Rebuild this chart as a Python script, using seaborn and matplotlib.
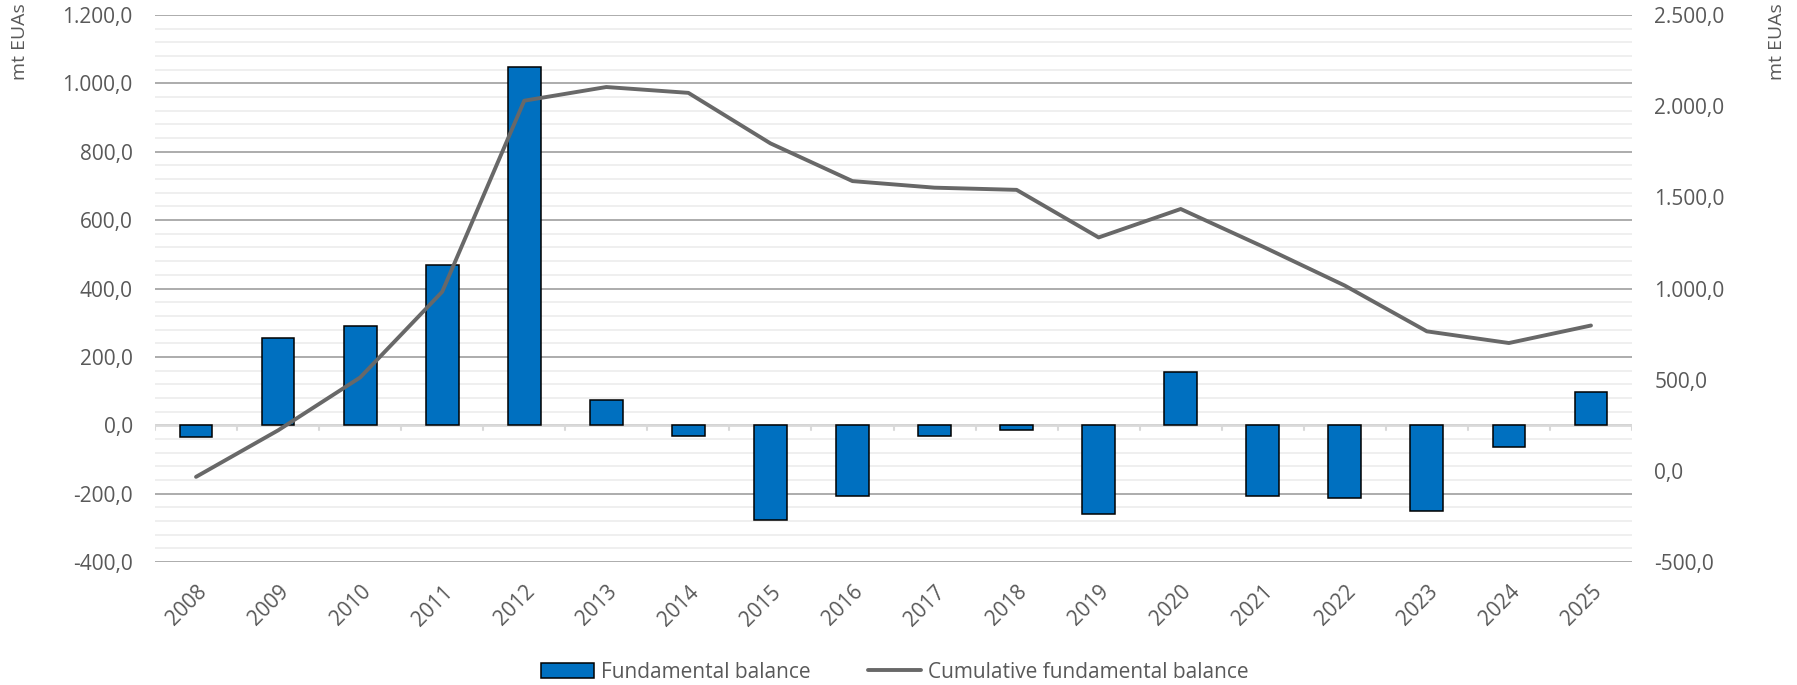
import numpy as np
import pandas as pd
import matplotlib
matplotlib.use("Agg")
import matplotlib.pyplot as plt
from matplotlib.patches import Patch
from matplotlib.lines import Line2D
from matplotlib.ticker import FuncFormatter, MultipleLocator
import seaborn as sns

years = [str(y) for y in range(2008, 2026)]
fundamental_balance = [-33, 255, 290, 470, 1048, 75, -32, -277, -207, -31,
                       -13, -261, 156, -206, -214, -251, -64, 96]
cumulative_balance = [-33, 222, 512, 982, 2030, 2105, 2073, 1796, 1589, 1553,
                      1541, 1280, 1436, 1230, 1016, 765, 701, 797]

right_ticks = [-500, 0, 500, 1000, 1500, 2000, 2500]

df = pd.DataFrame({"year": years,
                   "balance": fundamental_balance,
                   "cumulative": cumulative_balance})

sns.set_theme(style="white")
plt.rcParams["font.family"] = ["Open Sans", "DejaVu Sans"]

FS = 15
TXT = "#595959"
BAR = "#0070C0"
LINE = "#686868"
MAJOR = "#a6a6a6"
MINOR = "#eeeeee"
AXIS = "#d9d9d9"

fig = plt.figure(figsize=(17.97, 6.85), dpi=100)
ax = fig.add_axes([155 / 1797, 1 - 562 / 685, (1632 - 155) / 1797, (562 - 15) / 685])

sns.barplot(data=df, x="year", y="balance", ax=ax, color=BAR, width=0.4,
            edgecolor="black", linewidth=1.1, saturation=1, zorder=3)

ax.set_ylim(-400, 1200)
ax.set_xlim(-0.5, len(years) - 0.5)
ax.yaxis.set_major_locator(MultipleLocator(200))
ax.yaxis.set_minor_locator(MultipleLocator(40))
ax.grid(which="minor", axis="y", color=MINOR, linewidth=1.3, zorder=0)
ax.grid(which="major", axis="y", color=MAJOR, linewidth=1.3, zorder=0)
ax.set_axisbelow(True)

# light zero axis with category separators
ax.axhline(0, color=AXIS, linewidth=2.0, zorder=2)
for xb in np.arange(-0.5, len(years), 1.0):
    ax.plot([xb, xb], [0, -15], color=AXIS, linewidth=1.5, zorder=2)

def euro_fmt(v, _pos):
    s = f"{v:,.1f}"
    return s.replace(",", "X").replace(".", ",").replace("X", ".")

ax.yaxis.set_major_formatter(FuncFormatter(euro_fmt))
ax.tick_params(axis="y", which="both", length=0, labelsize=FS, labelcolor=TXT, pad=16)
ax.tick_params(axis="x", length=0, labelsize=FS, labelcolor=TXT, pad=14)
for lab in ax.get_xticklabels():
    lab.set_rotation(45)
    lab.set_ha("right")
    lab.set_va("top")
    lab.set_rotation_mode("anchor")
ax.set_xlabel("")
ax.set_ylabel("")
for sp in ax.spines.values():
    sp.set_visible(False)

ax2 = ax.twinx()
sns.lineplot(data=df, x="year", y="cumulative", ax=ax2, color=LINE,
             linewidth=2.8, sort=False, zorder=4)
ax2.set_ylim(-500, 2500)
ax2.set_yticks(right_ticks)
ax2.yaxis.set_major_formatter(FuncFormatter(euro_fmt))
ax2.tick_params(axis="y", length=0, labelsize=FS, labelcolor=TXT, pad=16)
ax2.set_ylabel("")
ax2.set_xlabel("")
ax2.grid(False)
for sp in ax2.spines.values():
    sp.set_visible(False)
ax2.set_xlim(-0.5, len(years) - 0.5)

fig.text(20 / 1797, 1 - 42 / 685, "mt EUAs", rotation=90, ha="center",
         va="center", fontsize=14, color=TXT)
fig.text(1777 / 1797, 1 - 42 / 685, "mt EUAs", rotation=90, ha="center",
         va="center", fontsize=14, color=TXT)

handles = [Patch(facecolor=BAR, edgecolor="black", linewidth=1.1),
           Line2D([0], [0], color=LINE, linewidth=2.8)]
fig.legend(handles, ["Fundamental balance", "Cumulative fundamental balance"],
           loc="center", bbox_to_anchor=(0.498, 13 / 685), ncol=2,
           frameon=False, fontsize=FS, labelcolor=TXT, handlelength=2.55,
           handleheight=0.7, handletextpad=0.33, columnspacing=2.75)

fig.savefig("out.png", dpi=100)
